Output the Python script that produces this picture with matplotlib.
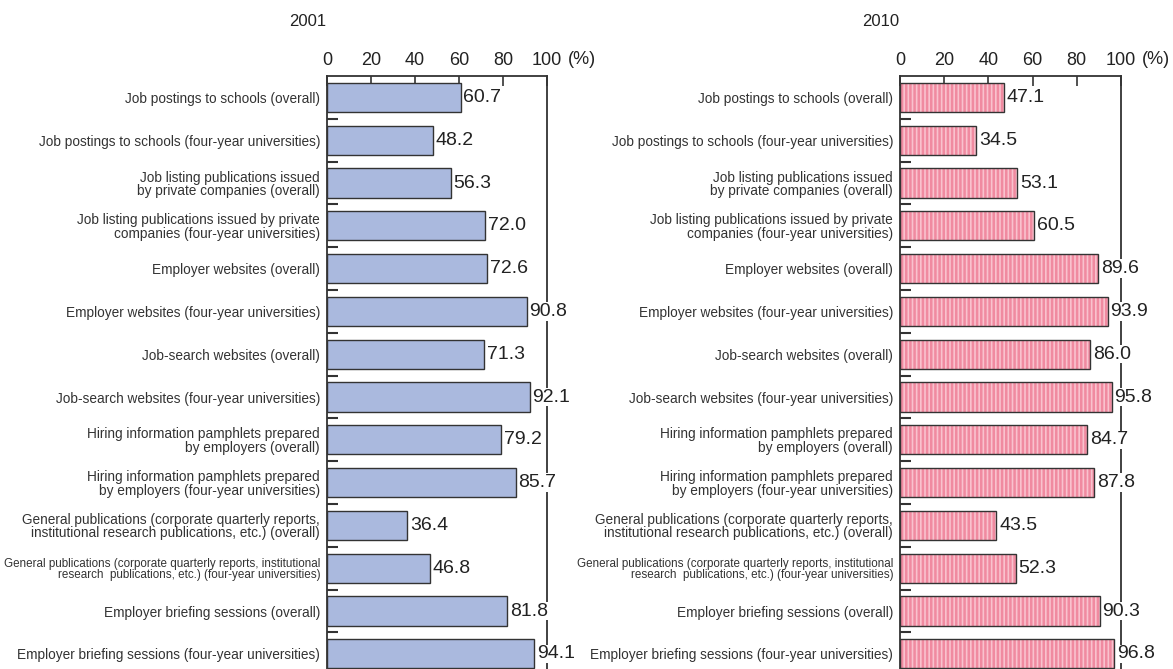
import matplotlib.pyplot as plt
import numpy as np

# Category labels (shared by both panels)
labels = [
    'Job postings to schools (overall)',
    'Job postings to schools (four-year universities)',
    'Job listing publications issued\nby private companies (overall)',
    'Job listing publications issued by private\ncompanies (four-year universities)',
    'Employer websites (overall)',
    'Employer websites (four-year universities)',
    'Job-search websites (overall)',
    'Job-search websites (four-year universities)',
    'Hiring information pamphlets prepared\nby employers (overall)',
    'Hiring information pamphlets prepared\nby employers (four-year universities)',
    'General publications (corporate quarterly reports,\ninstitutional research publications, etc.) (overall)',
    'General publications (corporate quarterly reports, institutional\nresearch  publications, etc.) (four-year universities)',
    'Employer briefing sessions (overall)',
    'Employer briefing sessions (four-year universities)',
]

vals_2001 = [60.7, 48.2, 56.3, 72.0, 72.6, 90.8, 71.3, 92.1, 79.2, 85.7, 36.4, 46.8, 81.8, 94.1]
vals_2010 = [47.1, 34.5, 53.1, 60.5, 89.6, 93.9, 86.0, 95.8, 84.7, 87.8, 43.5, 52.3, 90.3, 96.8]

years = ['2001', '2010']
xticks = [0, 20, 40, 60, 80, 100]

plt.rcParams['hatch.linewidth'] = 1.8

fig = plt.figure(figsize=(11.73, 6.69), dpi=100)

W, H = 1173, 669
pitch = 42.8
n = len(labels)
ax_h = n * pitch / H
ax_bottom = (H - 76 - n * pitch) / H
num_font = ['Liberation Sans', 'DejaVu Sans']

def panel(x0, x1, vals, year, striped):
    ax = fig.add_axes([x0 / W, ax_bottom, (x1 - x0) / W, ax_h])
    y = np.arange(n)
    if striped:
        ax.barh(y, vals, height=0.68, color='#f9c2ce', edgecolor='#f08aa0',
                hatch='||||', linewidth=0, zorder=2)
        ax.barh(y, vals, height=0.68, color='none', edgecolor='#333333',
                linewidth=1.0, zorder=3)
    else:
        ax.barh(y, vals, height=0.68, color='#aab9de', edgecolor='#333333',
                linewidth=1.0, zorder=3)
    ax.set_xlim(0, 100)
    ax.set_ylim(n - 0.5, -0.5)
    ax.xaxis.tick_top()
    ax.set_xticks(xticks)
    ax.set_xticklabels([str(t) for t in xticks], fontsize=13,
                       family=num_font, color='#222222')
    ax.tick_params(axis='x', direction='in', length=7, width=1.2, pad=5,
                   color='#333333')
    ax.set_yticks(y)
    ax.set_yticklabels(labels, fontsize=9.8, linespacing=0.95,
                       family=['Liberation Sans Narrow', 'Liberation Sans', 'DejaVu Sans'],
                       color='#333333')
    ax.get_yticklabels()[11].set_fontsize(8.4)
    ax.tick_params(axis='y', length=0, pad=5)
    ax.set_yticks(np.arange(n - 1) + 0.5, minor=True)
    ax.tick_params(axis='y', which='minor', direction='in', length=8, width=1.5,
                   color='#333333')
    for s in ['left', 'top', 'right']:
        ax.spines[s].set_color('#333333')
        ax.spines[s].set_linewidth(1.3)
    ax.spines['bottom'].set_visible(False)
    for i, v in enumerate(vals):
        ax.text(v + 1.3, i, f'{v:.1f}', va='center', ha='left', fontsize=14,
                family=num_font, color='#222222', zorder=5,
                bbox=dict(facecolor='white', edgecolor='none', pad=0.5))
    fig.text((x1 + 21) / W, 1 - 60 / H, '(%)', fontsize=13, va='center', ha='left',
             family=num_font, color='#222222')
    fig.text((x0 - 19) / W, 1 - 21 / H, year, fontsize=12, va='center', ha='center',
             family=num_font, color='#222222')
    return ax

panel(327, 547, vals_2001, years[0], False)
panel(900, 1121, vals_2010, years[1], True)

plt.savefig('out.png', dpi=100)
